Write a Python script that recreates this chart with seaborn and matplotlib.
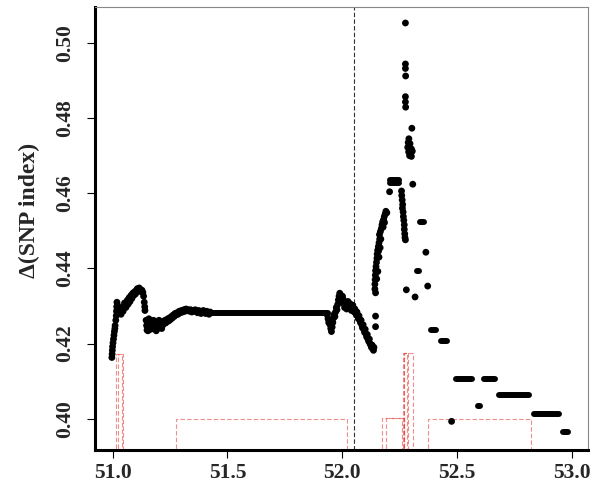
import numpy as np
import pandas as pd
import matplotlib
matplotlib.use('Agg')
import matplotlib.pyplot as plt
import seaborn as sns

# individual SNP windows (position in Mb, delta SNP index)
snp_pos = [
    50.997, 50.998, 50.999, 51.000, 51.002, 51.004, 51.006, 51.008, 51.010, 51.011,
    51.014, 51.016, 51.017, 51.018, 51.019, 51.022, 51.025, 51.028, 51.031, 51.034,
    51.037, 51.040, 51.043, 51.046, 51.049, 51.052, 51.055, 51.058,
    51.060, 51.064, 51.068, 51.072, 51.076, 51.080, 51.084, 51.088, 51.092, 51.096,
    51.100, 51.104, 51.108, 51.112, 51.116, 51.120, 51.124, 51.128, 51.132, 51.135,
    51.138, 51.140, 51.141,
    51.146, 51.148, 51.150, 51.152, 51.156, 51.160, 51.164, 51.168, 51.172, 51.176,
    51.180, 51.184, 51.188, 51.192, 51.196, 51.200, 51.204, 51.208, 51.212, 51.216,
    51.220, 51.224, 51.228, 51.232, 51.236, 51.240, 51.244, 51.248, 51.252, 51.256,
    51.260, 51.264, 51.268, 51.272, 51.276, 51.280, 51.285, 51.290, 51.295, 51.300,
    51.305, 51.310, 51.315, 51.320, 51.325, 51.330, 51.335, 51.340, 51.345, 51.350,
    51.355, 51.360, 51.365, 51.370, 51.375, 51.380, 51.385, 51.390, 51.395, 51.400,
    51.405, 51.410, 51.415, 51.420, 51.425,
    51.154, 51.166, 51.178, 51.190, 51.202, 51.214, 51.158,
    51.935, 51.938, 51.941, 51.944, 51.947, 51.950, 51.953, 51.956, 51.959, 51.962,
    51.965, 51.968, 51.971, 51.974, 51.977, 51.980, 51.983, 51.986, 51.989, 51.992,
    51.995, 51.998, 52.001, 52.004, 52.007, 52.010, 52.013, 52.016, 52.019, 52.022,
    52.025, 52.028, 52.031, 52.034, 52.037, 52.040, 52.043, 52.046, 52.049, 52.052,
    52.055, 52.058, 52.061, 52.064, 52.067, 52.070, 52.073, 52.076, 52.079, 52.082,
    52.085, 52.088, 52.091, 52.094, 52.097, 52.100, 52.103, 52.106, 52.109, 52.112,
    52.115, 52.118, 52.121, 52.124, 52.127, 52.130, 52.133, 52.136, 52.138,
    52.145, 52.145, 52.145,
    52.142, 52.142, 52.143, 52.144, 52.145, 52.147, 52.149, 52.151, 52.152, 52.154,
    52.158, 52.157, 52.160, 52.163, 52.162, 52.166, 52.170, 52.173, 52.176, 52.180,
    52.183, 52.187, 52.190, 52.194,
    52.150, 52.155, 52.160, 52.165, 52.168, 52.178, 52.184,
    52.206,
    52.258, 52.259, 52.261, 52.263, 52.262, 52.265, 52.266, 52.268, 52.270, 52.270,
    52.272, 52.273, 52.275,
    52.275, 52.275, 52.275, 52.276, 52.275, 52.275, 52.276, 52.303,
    52.290, 52.287, 52.295, 52.285, 52.293, 52.301, 52.289, 52.297, 52.305, 52.293,
    52.301,
    52.307, 52.364, 52.372, 52.279, 52.317, 52.476,
]
snp_delta = [
    0.4163, 0.4172, 0.4182, 0.4192, 0.4202, 0.4212, 0.4222, 0.4232, 0.4240, 0.4248,
    0.4262, 0.4274, 0.4286, 0.4298, 0.4310, 0.4302, 0.4288, 0.4280, 0.4292, 0.4284,
    0.4278, 0.4290, 0.4296, 0.4286, 0.4298, 0.4308, 0.4302, 0.4296,
    0.4300, 0.4315, 0.4305, 0.4322, 0.4312, 0.4328, 0.4320, 0.4334, 0.4328, 0.4338,
    0.4332, 0.4342, 0.4346, 0.4340, 0.4348, 0.4344, 0.4338, 0.4342, 0.4336, 0.4326,
    0.4310, 0.4298, 0.4288,
    0.4262, 0.4248, 0.4236, 0.4254, 0.4246, 0.4252, 0.4242, 0.4250, 0.4246, 0.4240,
    0.4250, 0.4244, 0.4252, 0.4246, 0.4240, 0.4248, 0.4254, 0.4246, 0.4252, 0.4258,
    0.4250, 0.4256, 0.4262, 0.4255, 0.4260, 0.4266, 0.4260, 0.4268, 0.4264, 0.4272,
    0.4268, 0.4276, 0.4272, 0.4280, 0.4276, 0.4282, 0.4278, 0.4286, 0.4282, 0.4288,
    0.4284, 0.4290, 0.4286, 0.4292, 0.4288, 0.4290, 0.4286, 0.4290, 0.4284, 0.4288,
    0.4286, 0.4290, 0.4285, 0.4282, 0.4288, 0.4286, 0.4280, 0.4284, 0.4288, 0.4284,
    0.4280, 0.4286, 0.4282, 0.4278, 0.4284,
    0.4234, 0.4238, 0.4262, 0.4234, 0.4262, 0.4240, 0.4266,
    0.4276, 0.4266, 0.4256, 0.4262, 0.4250, 0.4240, 0.4232, 0.4244, 0.4256, 0.4268,
    0.4278, 0.4272, 0.4284, 0.4296, 0.4290, 0.4304, 0.4316, 0.4326, 0.4334, 0.4330,
    0.4322, 0.4312, 0.4326, 0.4318, 0.4306, 0.4296, 0.4308, 0.4300, 0.4292, 0.4302,
    0.4312, 0.4304, 0.4296, 0.4306, 0.4298, 0.4288, 0.4296, 0.4302, 0.4294, 0.4284,
    0.4292, 0.4286, 0.4276, 0.4284, 0.4274, 0.4266, 0.4274, 0.4264, 0.4256, 0.4262,
    0.4250, 0.4242, 0.4250, 0.4238, 0.4230, 0.4238, 0.4226, 0.4218, 0.4224, 0.4212,
    0.4206, 0.4212, 0.4200, 0.4196, 0.4190, 0.4196, 0.4186, 0.4182, 0.4190,
    0.4335, 0.4273, 0.4245,
    0.4345, 0.4358, 0.4370, 0.4382, 0.4394, 0.4405, 0.4416, 0.4427, 0.4438, 0.4448,
    0.4446, 0.4458, 0.4468, 0.4478, 0.4490, 0.4498, 0.4506, 0.4516, 0.4524, 0.4530,
    0.4538, 0.4545, 0.4552, 0.4548,
    0.4372, 0.4392, 0.4430, 0.4455, 0.4478, 0.4510, 0.4522,
    0.4604,
    0.4606, 0.4594, 0.4582, 0.4570, 0.4560, 0.4550, 0.4538, 0.4528, 0.4516, 0.4504,
    0.4492, 0.4482, 0.4476,
    0.5053, 0.4944, 0.4932, 0.4912, 0.4857, 0.4843, 0.4829, 0.4773,
    0.4745, 0.4735, 0.4732, 0.4722, 0.4720, 0.4718, 0.4710, 0.4706, 0.4712, 0.4700,
    0.4698,
    0.4624, 0.4443, 0.4353, 0.4343, 0.4324, 0.3993,
]

# runs of consecutive windows sharing the same value
run_start = [51.420, 52.210, 52.210, 52.340, 52.325, 52.385, 52.429, 52.497,
             52.617, 52.683, 52.590, 52.835, 52.962]
run_end = [51.940, 52.245, 52.245, 52.354, 52.332, 52.410, 52.457, 52.567,
           52.664, 52.813, 52.600, 52.944, 52.983]
run_delta = [0.4282, 0.4635, 0.4628, 0.4523, 0.4393, 0.4236, 0.4206, 0.4106,
             0.4106, 0.4064, 0.4035, 0.4013, 0.3964]

# candidate intervals (red dashed boxes)
box_left = [51.017, 51.022, 51.274, 52.174, 52.190, 52.263, 52.268, 52.270, 52.372]
box_right = [51.046, 51.040, 52.020, 52.262, 52.270, 52.285, 52.280, 52.307, 52.822]
box_top = [0.4171, 0.4171, 0.4000, 0.4002, 0.4002, 0.4175, 0.4175, 0.4175, 0.4000]

peak_pos = 52.05
x_ticks = [51.0, 51.5, 52.0, 52.5, 53.0]
x_ticklabels = ['51.0', '51.5', '52.0', '52.5', '53.0']
y_ticks = [0.40, 0.42, 0.44, 0.46, 0.48, 0.50]
y_ticklabels = ['0.40', '0.42', '0.44', '0.46', '0.48', '0.50']

sns.set_style('white')
plt.rcParams['font.family'] = ['Liberation Serif', 'DejaVu Serif']
plt.rcParams['font.weight'] = 'bold'

fig = plt.figure(figsize=(5.93, 4.88), dpi=100)
ax = fig.add_axes([0.160, 0.078, 0.832, 0.908])

ybase = 0.385
for l, r, t in zip(box_left, box_right, box_top):
    ax.plot([l, l, r, r], [ybase, t, t, ybase], color='#e8413c', alpha=0.6,
            lw=0.8, ls=(0, (4, 2)), zorder=1)

ax.axvline(peak_pos, color='#333333', lw=0.8, ls=(0, (4, 2)), zorder=1)

df = pd.DataFrame({'pos': snp_pos, 'delta': snp_delta})
sns.scatterplot(data=df, x='pos', y='delta', color='black', s=24,
                edgecolor='none', ax=ax, zorder=3)

runs = ax.hlines(run_delta, run_start, run_end, colors='black', lw=4.3, zorder=3)
runs.set_capstyle('round')

ax.set_xlim(50.923, 53.071)
ax.set_ylim(0.3917, 0.5096)
ax.set_xticks(x_ticks)
ax.set_xticklabels(x_ticklabels)
ax.set_yticks(y_ticks)
ax.set_yticklabels(y_ticklabels, rotation=90, va='center')
ax.tick_params(axis='both', direction='out', length=5.5, width=0.8,
               labelsize=15.5, color='black', left=True, bottom=True)
ax.tick_params(axis='y', pad=9)
ax.tick_params(axis='x', pad=4)

ax.set_xlabel('')
lab = ax.set_ylabel('\u0394(SNP index)', fontsize=17, fontweight='bold')
lab.set_verticalalignment('center')
ax.yaxis.set_label_coords(-0.132, 0.54)

for side in ['left', 'bottom']:
    ax.spines[side].set_linewidth(2.2)
    ax.spines[side].set_color('black')
for side in ['top', 'right']:
    ax.spines[side].set_linewidth(0.8)
    ax.spines[side].set_color('#888888')

fig.savefig('out.png', dpi=100)
